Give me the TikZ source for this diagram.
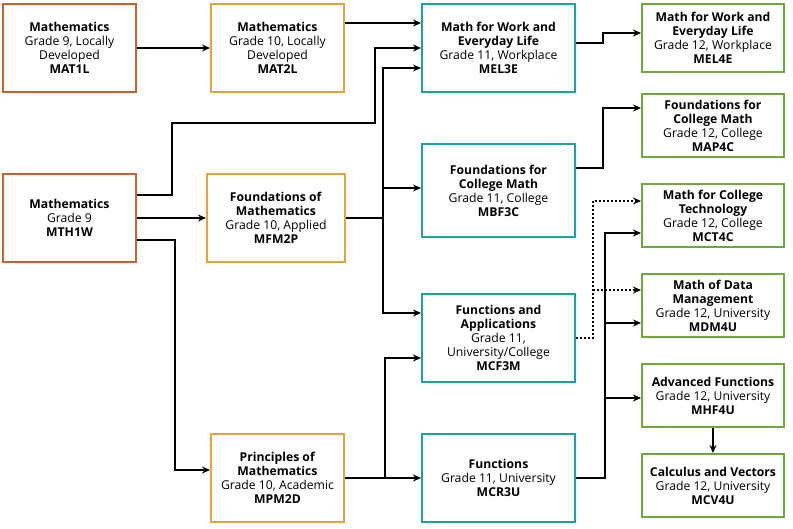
\documentclass[tikz,border=0pt]{standalone}
\usepackage{fontspec}
\setmainfont{Open Sans}
\usetikzlibrary{arrows.meta}
\definecolor{dor}{HTML}{C9622B}
\definecolor{lor}{HTML}{E6A23C}
\definecolor{teal2}{HTML}{1AA3A3}
\definecolor{grn}{HTML}{6FA83A}
\begin{document}
\begin{tikzpicture}[x=1pt,y=-1pt,
  box/.style={draw=#1,line width=2pt,fill=white,align=center,inner sep=1pt,font=\fontsize{12.2}{14}\selectfont},
  w/.style={minimum width=#1-2},
  h/.style={minimum height=#1-2},
  arr/.style={line width=1.8pt,-{Stealth[length=8pt,width=7pt]}},
  dot/.style={arr,dash pattern=on 2pt off 2pt}]
\useasboundingbox (0,0) rectangle (793,528);
\node[box=dor,w=135,h=90] (mat1l) at (69.5,48) {\textbf{Mathematics}\\Grade 9, Locally\\Developed\\\textbf{MAT1L}};
\node[box=lor,w=135,h=90] (mat2l) at (277.5,48) {\textbf{Mathematics}\\Grade 10, Locally\\Developed\\\textbf{MAT2L}};
\node[box=teal2,w=155,h=90] (mel3e) at (498.5,48) {\textbf{Math for Work and}\\\textbf{Everyday Life}\\Grade 11, Workplace\\\textbf{MEL3E}};
\node[box=grn,w=144,h=70] (mel4e) at (713,38) {\textbf{Math for Work and}\\\textbf{Everyday Life}\\Grade 12, Workplace\\\textbf{MEL4E}};
\node[box=dor,w=135,h=90] (mth1w) at (69.5,218) {\textbf{Mathematics}\\Grade 9\\\textbf{MTH1W}};
\node[box=lor,w=140,h=90] (mfm2p) at (276,218) {\textbf{Foundations of}\\\textbf{Mathematics}\\Grade 10, Applied\\\textbf{MFM2P}};
\node[box=teal2,w=155,h=95] (mbf3c) at (498.5,190.5) {\textbf{Foundations for}\\\textbf{College Math}\\Grade 11, College\\\textbf{MBF3C}};
\node[box=grn,w=144,h=65] (map4c) at (713,125.5) {\textbf{Foundations for}\\\textbf{College Math}\\Grade 12, College\\\textbf{MAP4C}};
\node[box=grn,w=144,h=65] (mct4c) at (713,215.5) {\textbf{Math for College}\\\textbf{Technology}\\Grade 12, College\\\textbf{MCT4C}};
\node[box=grn,w=144,h=65] (mdm4u) at (713,305.5) {\textbf{Math of Data}\\\textbf{Management}\\Grade 12, University\\\textbf{MDM4U}};
\node[box=teal2,w=155,h=90] (mcf3m) at (498.5,338) {\textbf{Functions and}\\\textbf{Applications}\\Grade 11,\\University/College\\\textbf{MCF3M}};
\node[box=grn,w=144,h=65] (mhf4u) at (713,395.5) {\textbf{Advanced Functions}\\Grade 12, University\\\textbf{MHF4U}};
\node[box=grn,w=144,h=65] (mcv4u) at (713,485.5) {\textbf{Calculus and Vectors}\\Grade 12, University\\\textbf{MCV4U}};
\node[box=lor,w=135,h=90] (mpm2d) at (277.5,478) {\textbf{Principles of}\\\textbf{Mathematics}\\Grade 10, Academic\\\textbf{MPM2D}};
\node[box=teal2,w=155,h=90] (mcr3u) at (498.5,478) {\textbf{Functions}\\Grade 11, University\\\textbf{MCR3U}};
% connectors
\draw[arr] (mat1l) -- (mat2l);
\draw[arr] (mat2l.east|-0,23) -- (mel3e.west|-0,23);
\draw[arr] (mth1w.east|-0,195) -- (172,195) -- (172,123) -- (375,123) -- (375,48) -- (mel3e.west|-0,48);
\draw[arr] (mth1w) -- (mfm2p);
\draw[arr] (mth1w.east|-0,240) -- (175,240) -- (175,470) -- (mpm2d.west|-0,470);
\draw[arr] (mfm2p.east) -- (383,218) -- (383,68) -- (mel3e.west|-0,68);
\draw[arr] (383,188) -- (mbf3c.west|-0,188);
\draw[arr] (383,218) -- (383,313) -- (mcf3m.west|-0,313);
\draw[arr] (mel3e.east|-0,43) -- (603,43) -- (603,33) -- (mel4e.west|-0,33);
\draw[arr] (mbf3c.east|-0,168) -- (603,168) -- (603,108) -- (map4c.west|-0,108);
\draw[dot] (mcf3m.east|-0,338) -- (593,338) -- (593,201) -- (mct4c.west|-0,201);
\draw[dot] (593,290) -- (mdm4u.west|-0,290);
\draw[arr] (mpm2d.east|-0,478) -- (385,478) -- (385,358) -- (mcf3m.west|-0,358);
\draw[arr] (385,478) -- (mcr3u.west|-0,478);
\draw[arr] (mcr3u.east|-0,478) -- (605,478) -- (605,233) -- (mct4c.west|-0,233);
\draw[arr] (605,323) -- (mdm4u.west|-0,323);
\draw[arr] (605,398) -- (mhf4u.west|-0,398);
\draw[arr] (mhf4u) -- (mcv4u);
\end{tikzpicture}
\end{document}
